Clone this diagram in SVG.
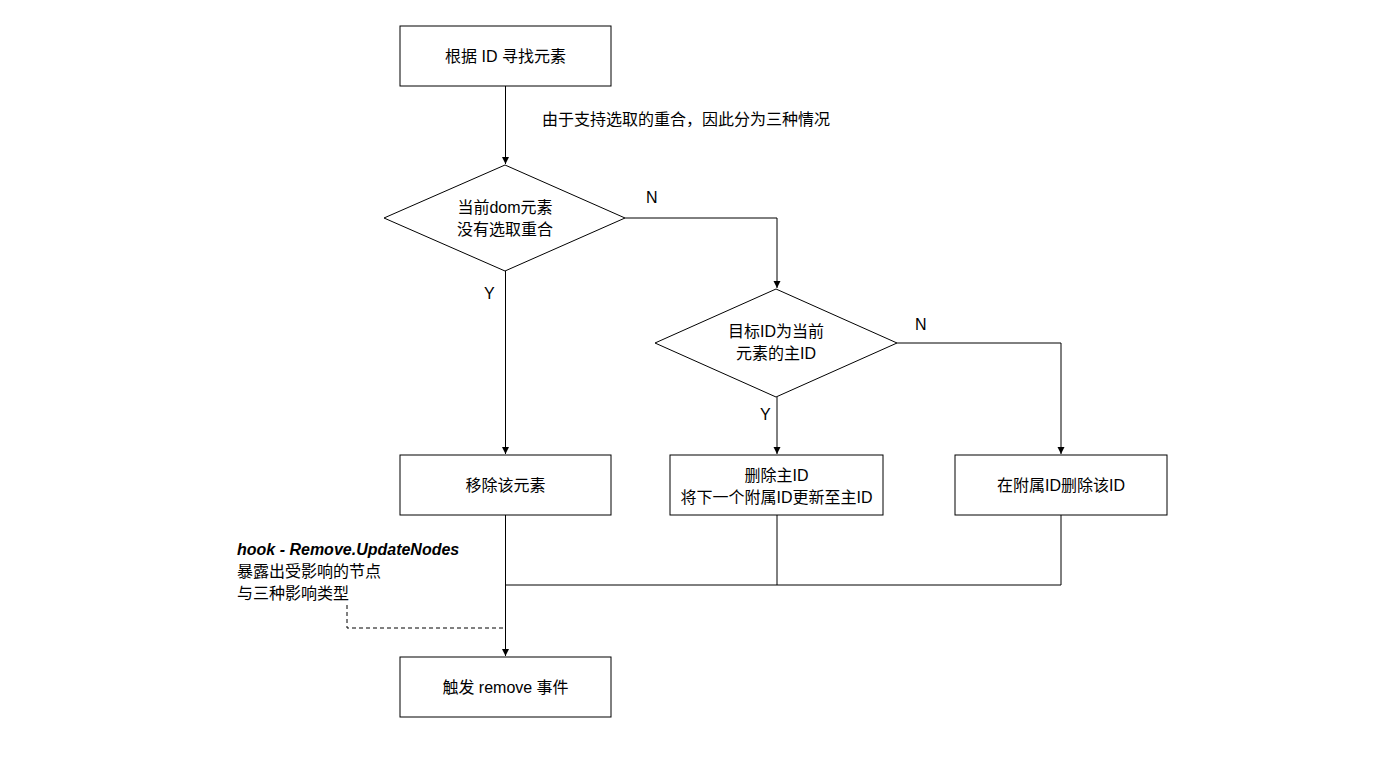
<svg xmlns="http://www.w3.org/2000/svg" width="1400" height="759" viewBox="0 0 1400 759">
<style>
.box{fill:#fff;stroke:#000;stroke-width:1}
.t{font-family:"Liberation Sans","Noto Sans CJK SC",sans-serif;font-size:16px;fill:#000}
.c{text-anchor:middle}
.ln{fill:none;stroke:#000;stroke-width:1}
.dash{fill:none;stroke:#000;stroke-width:1;stroke-dasharray:4 3}
</style>
<defs>
<marker id="ah" markerWidth="8" markerHeight="8" refX="7" refY="4" orient="auto" markerUnits="userSpaceOnUse">
<path d="M0,0.5 L7,4 L0,7.5 Z" fill="#000"/>
</marker>
</defs>
<rect width="1400" height="759" fill="#fff"/>
<g id="connectors">
<path class="ln" d="M505.5,86 V164" marker-end="url(#ah)"/>
<path class="ln" d="M625,218 H777 V288" marker-end="url(#ah)"/>
<path class="ln" d="M505.5,271 V454" marker-end="url(#ah)"/>
<path class="ln" d="M777,397 V454" marker-end="url(#ah)"/>
<path class="ln" d="M897,343 H1061 V454" marker-end="url(#ah)"/>
<path class="ln" d="M505.5,515 V656" marker-end="url(#ah)"/>
<path class="ln" d="M777,515 V585 H505.5"/>
<path class="ln" d="M1061,515 V585 H777"/>
<path class="dash" d="M347,605 V628 H505.5"/>
<text class="t" x="542" y="125">由于支持选取的重合，因此分为三种情况</text>
<text class="t" x="646" y="203">N</text>
<text class="t" x="484" y="299">Y</text>
<text class="t" x="915" y="330">N</text>
<text class="t" x="760" y="420">Y</text>
</g>
<g id="n1"><rect class="box" x="400" y="26" width="211" height="60"/><text class="t c" x="505.5" y="62">根据 ID 寻找元素</text></g>
<g id="d1"><polygon class="box" points="505,165 625,218 505,271 384,218"/><text class="t c" x="505" y="213">当前dom元素</text><text class="t c" x="505" y="235">没有选取重合</text></g>
<g id="d2"><polygon class="box" points="776,289 897,343 776,397 655,343"/><text class="t c" x="776" y="337">目标ID为当前</text><text class="t c" x="776" y="359">元素的主ID</text></g>
<g id="n2"><rect class="box" x="400" y="455" width="211" height="60"/><text class="t c" x="505.5" y="491">移除该元素</text></g>
<g id="n3"><rect class="box" x="670" y="455" width="213" height="60"/><text class="t c" x="776.5" y="481">删除主ID</text><text class="t c" x="776.5" y="503">将下一个附属ID更新至主ID</text></g>
<g id="n4"><rect class="box" x="955" y="455" width="212" height="60"/><text class="t c" x="1061" y="491">在附属ID删除该ID</text></g>
<g id="n5"><rect class="box" x="400" y="657" width="211" height="60"/><text class="t c" x="505.5" y="693">触发 remove 事件</text></g>
<g id="note">
<text class="t" x="237" y="555" font-weight="bold" font-style="italic">hook - Remove.UpdateNodes</text>
<text class="t" x="237" y="577">暴露出受影响的节点</text>
<text class="t" x="237" y="599">与三种影响类型</text>
</g>
</svg>
